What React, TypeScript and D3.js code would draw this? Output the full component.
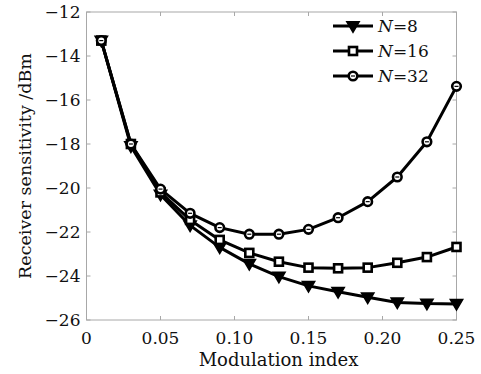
import { useEffect, useRef } from 'react'
import * as d3 from 'd3'

const W = 481, H = 374
const xVals = [0.01, 0.03, 0.05, 0.07, 0.09, 0.11, 0.13, 0.15, 0.17, 0.19, 0.21, 0.23, 0.25]
const n8 = [-13.3, -18.1, -20.3, -21.7, -22.7, -23.45, -24.03, -24.45, -24.72, -24.97, -25.2, -25.25, -25.27]
const n16 = [-13.3, -18.0, -20.2, -21.45, -22.36, -22.95, -23.35, -23.62, -23.65, -23.62, -23.4, -23.14, -22.68]
const n32 = [-13.3, -18.0, -20.05, -21.15, -21.8, -22.1, -22.1, -21.88, -21.35, -20.62, -19.5, -17.9, -15.38]
const xTicks = [0, 0.05, 0.1, 0.15, 0.2, 0.25]
const xTickLabels = ['0', '0.05', '0.10', '0.15', '0.20', '0.25']
const yTicks = [-12, -14, -16, -18, -20, -22, -24, -26]

type Marker = 'tri' | 'sq' | 'circ'
const series: { name: string; vals: number[]; marker: Marker }[] = [
  { name: '8', vals: n8, marker: 'tri' },
  { name: '16', vals: n16, marker: 'sq' },
  { name: '32', vals: n32, marker: 'circ' },
]

const FONT = '"DejaVu Serif", serif'

function drawMarker(g: d3.Selection<SVGGElement, unknown, null, undefined>, m: Marker, x: number, y: number) {
  if (m === 'tri') {
    const s = 6.2
    g.append('path').attr('d', `M${x - s},${y - s * 0.7}L${x + s},${y - s * 0.7}L${x},${y + s * 1.0}Z`)
      .attr('fill', '#000').attr('stroke', '#000').attr('stroke-width', 1.5)
  } else if (m === 'sq') {
    g.append('rect').attr('x', x - 4).attr('y', y - 4).attr('width', 8).attr('height', 8)
      .attr('fill', '#fff').attr('stroke', '#000').attr('stroke-width', 2.6)
  } else {
    g.append('circle').attr('cx', x).attr('cy', y).attr('r', 4.3)
      .attr('fill', '#fff').attr('stroke', '#000').attr('stroke-width', 2.6)
    g.append('line').attr('x1', x - 2).attr('x2', x + 2).attr('y1', y).attr('y2', y)
      .attr('stroke', '#000').attr('stroke-width', 1.2)
  }
}

export default function App() {
  const ref = useRef<SVGSVGElement>(null)

  useEffect(() => {
    const svg = d3.select(ref.current!)
    svg.selectAll('*').remove()
    const m = { l: 86.5, r: 24.5, t: 12, b: 54 }
    const x = d3.scaleLinear().domain([0, 0.25]).range([m.l, W - m.r])
    const y = d3.scaleLinear().domain([-26, -12]).range([H - m.b, m.t])
    const g = svg.append('g')

    // frame
    g.append('rect').attr('x', x(0)).attr('y', y(-12)).attr('width', x(0.25) - x(0)).attr('height', y(-26) - y(-12))
      .attr('fill', 'none').attr('stroke', '#a8a8a8').attr('stroke-width', 1)

    // ticks inward
    xTicks.forEach((t, i) => {
      g.append('line').attr('x1', x(t)).attr('x2', x(t)).attr('y1', y(-26)).attr('y2', y(-26) - 4).attr('stroke', '#a8a8a8')
      g.append('line').attr('x1', x(t)).attr('x2', x(t)).attr('y1', y(-12)).attr('y2', y(-12) + 4).attr('stroke', '#a8a8a8')
      g.append('text').attr('x', x(t)).attr('y', y(-26) + 24).attr('text-anchor', 'middle')
        .attr('font-family', FONT).attr('font-size', 17).attr('fill', '#111').text(xTickLabels[i])
    })
    yTicks.forEach(t => {
      g.append('line').attr('x1', x(0)).attr('x2', x(0) + 4).attr('y1', y(t)).attr('y2', y(t)).attr('stroke', '#a8a8a8')
      g.append('line').attr('x1', x(0.25)).attr('x2', x(0.25) - 4).attr('y1', y(t)).attr('y2', y(t)).attr('stroke', '#a8a8a8')
      g.append('text').attr('x', x(0) - 6).attr('y', y(t) + 6).attr('text-anchor', 'end')
        .attr('font-family', FONT).attr('font-size', 17).attr('fill', '#111').text(String(t).replace('-', '\u2212'))
    })

    // axis titles
    g.append('text').attr('x', (x(0) + x(0.25)) / 2 + 7).attr('y', H - 8).attr('text-anchor', 'middle')
      .attr('font-family', FONT).attr('font-size', 18).attr('fill', '#111').text('Modulation index')
    g.append('text').attr('transform', `translate(31,${(y(-12) + y(-26)) / 2}) rotate(-90)`).attr('text-anchor', 'middle')
      .attr('font-family', FONT).attr('font-size', 17.5).attr('fill', '#111').text('Receiver sensitivity /dBm')

    // series
    const line = d3.line<number>().x((_, i) => x(xVals[i])).y(v => y(v))
    series.forEach(s => {
      g.append('path').datum(s.vals).attr('d', line).attr('fill', 'none')
        .attr('stroke', '#000').attr('stroke-width', 3).attr('stroke-linejoin', 'round')
    })
    series.forEach(s => {
      s.vals.forEach((v, i) => drawMarker(g, s.marker, x(xVals[i]), y(v)))
    })

    // legend
    series.forEach((s, i) => {
      const ly = 26 + i * 25
      g.append('line').attr('x1', 333).attr('x2', 373).attr('y1', ly).attr('y2', ly)
        .attr('stroke', '#000').attr('stroke-width', 3)
      drawMarker(g, s.marker, 353, ly)
      const t = g.append('text').attr('x', 378).attr('y', ly + 6)
        .attr('font-family', FONT).attr('font-size', 17).attr('fill', '#111')
      t.append('tspan').attr('font-style', 'italic').text('N')
      t.append('tspan').text('=' + s.name)
    })
  }, [])

  return <svg ref={ref} width={W} height={H} style={{ position: 'absolute', left: 0, top: 0, background: '#fff' }} />
}
